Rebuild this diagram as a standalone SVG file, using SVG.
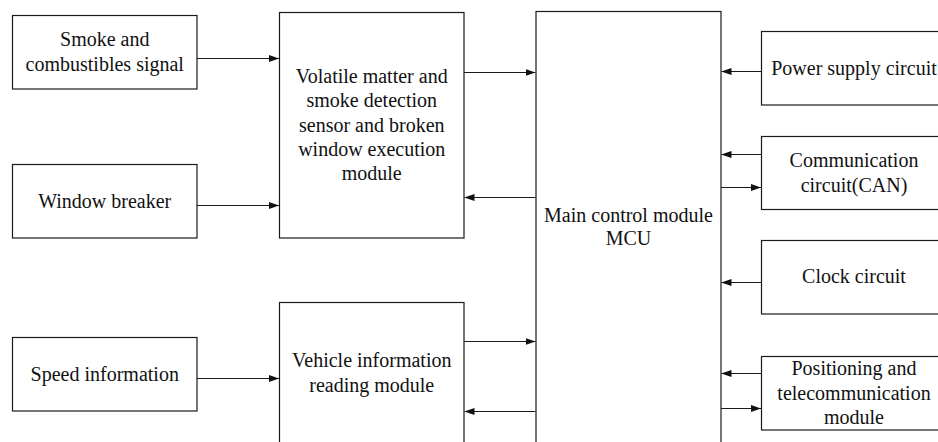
<svg xmlns="http://www.w3.org/2000/svg" width="938" height="442" viewBox="0 0 938 442">
<style>
.box{fill:#fff;stroke:#1a1a1a;stroke-width:1.2}
.t{font-family:'Liberation Serif','Times New Roman',Tinos,'DejaVu Serif',serif;font-size:20px;fill:#111;text-anchor:middle}
.c{stroke:#1a1a1a;stroke-width:1.1;fill:none;marker-end:url(#ah)}
</style>
<defs>
<marker id="ah" markerUnits="userSpaceOnUse" markerWidth="10" markerHeight="8" refX="10" refY="3.5" orient="auto">
<path d="M0,0 L10,3.5 L0,7 z" fill="#111"/>
</marker>
</defs>
<rect width="938" height="442" fill="#fff"/>
<g id="smoke"><rect class="box" x="12.5" y="15.5" width="184.5" height="73.5"/><text class="t" x="104.75" y="46">Smoke and</text><text class="t" x="104.75" y="71">combustibles signal</text></g>
<g id="window"><rect class="box" x="12.5" y="164.5" width="184.5" height="73.5"/><text class="t" x="104.75" y="208">Window breaker</text></g>
<g id="speed"><rect class="box" x="12.5" y="337.5" width="184.5" height="73.5"/><text class="t" x="104.75" y="381">Speed information</text></g>
<g id="volatile"><rect class="box" x="279.5" y="12.5" width="184.5" height="225.5"/><text class="t" x="371.75" y="83">Volatile matter and</text><text class="t" x="371.75" y="107">smoke detection</text><text class="t" x="371.75" y="131.5">sensor and broken</text><text class="t" x="371.75" y="155.5">window execution</text><text class="t" x="371.75" y="180">module</text></g>
<g id="vehicle"><rect class="box" x="279.5" y="302.5" width="184.5" height="160"/><text class="t" x="371.75" y="367">Vehicle information</text><text class="t" x="371.75" y="392">reading module</text></g>
<g id="main"><rect class="box" x="536" y="11.5" width="185" height="450"/><text class="t" x="628.5" y="221.5">Main control module</text><text class="t" x="628.5" y="245">MCU</text></g>
<g id="power"><rect class="box" x="761.5" y="31.5" width="185" height="73.5"/><text class="t" x="854" y="74.5">Power supply circuit</text></g>
<g id="comm"><rect class="box" x="761.5" y="136.5" width="185" height="73"/><text class="t" x="854" y="167">Communication</text><text class="t" x="854" y="192">circuit(CAN)</text></g>
<g id="clock"><rect class="box" x="761.5" y="240.5" width="185" height="73.5"/><text class="t" x="854" y="283">Clock circuit</text></g>
<g id="position"><rect class="box" x="761.5" y="356.5" width="185" height="73.5"/><text class="t" x="854" y="375">Positioning and</text><text class="t" x="854" y="399.5">telecommunication</text><text class="t" x="854" y="424">module</text></g>
<g id="connectors">
<line class="c" x1="197" y1="58.5" x2="279" y2="58.5"/>
<line class="c" x1="197" y1="205.5" x2="279" y2="205.5"/>
<line class="c" x1="197" y1="378.5" x2="279" y2="378.5"/>
<line class="c" x1="464" y1="72.5" x2="535.5" y2="72.5"/>
<line class="c" x1="535.5" y1="197.5" x2="464.5" y2="197.5"/>
<line class="c" x1="464" y1="341.5" x2="535.5" y2="341.5"/>
<line class="c" x1="535.5" y1="411.5" x2="464.5" y2="411.5"/>
<line class="c" x1="761" y1="71.5" x2="721.5" y2="71.5"/>
<line class="c" x1="761" y1="154.5" x2="721.5" y2="154.5"/>
<line class="c" x1="721" y1="187.5" x2="761" y2="187.5"/>
<line class="c" x1="761" y1="282.5" x2="721.5" y2="282.5"/>
<line class="c" x1="761" y1="373.5" x2="721.5" y2="373.5"/>
<line class="c" x1="721" y1="408.5" x2="761" y2="408.5"/>
</g>
</svg>
